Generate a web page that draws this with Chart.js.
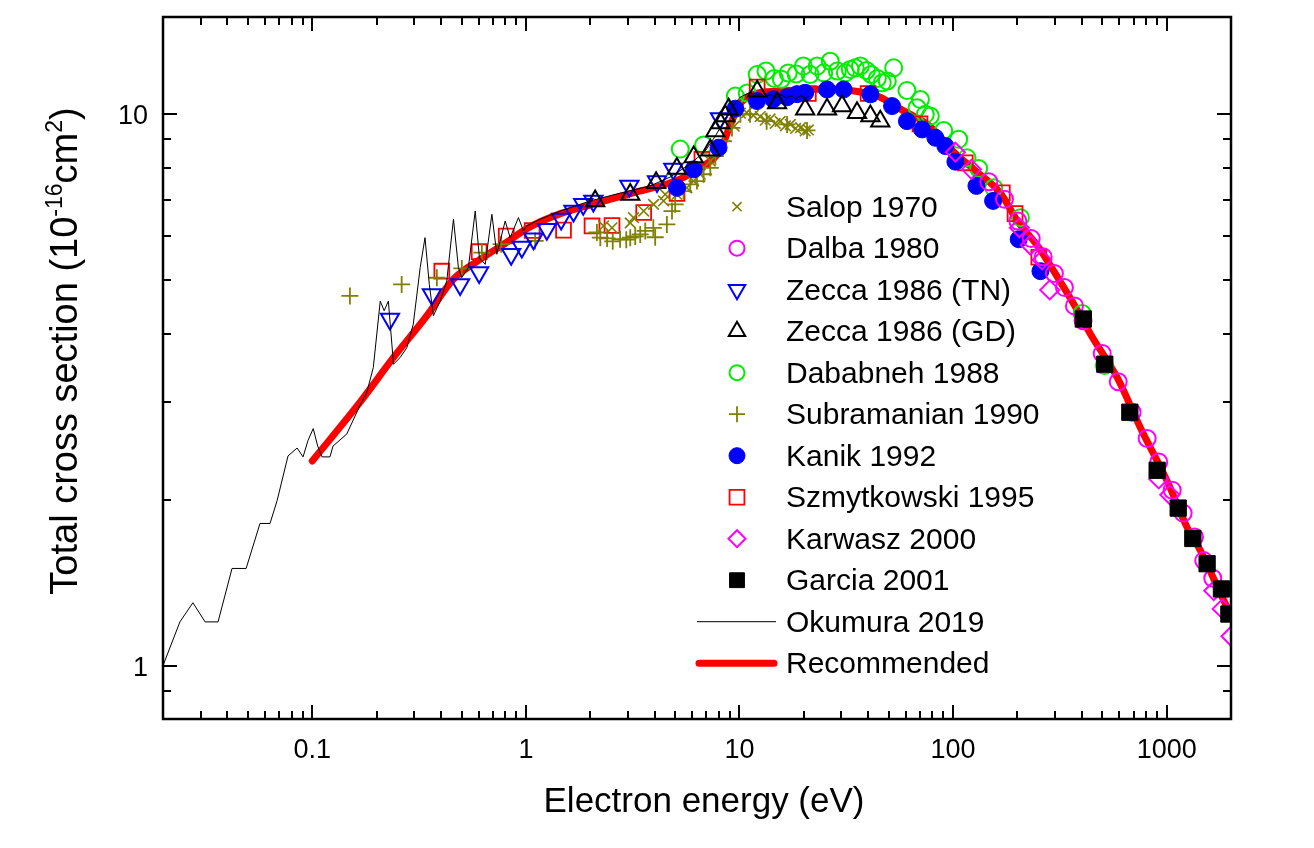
<!DOCTYPE html>
<html><head><meta charset="utf-8">
<script src="https://cdn.jsdelivr.net/npm/chart.js@4.4.1/dist/chart.umd.min.js"></script>
<style>html,body{margin:0;padding:0;background:#fff;}#wrap{width:1314px;height:848px;}</style>
</head><body><div id="wrap"><canvas id="c" width="1314" height="848"></canvas></div>
<script>
// ---------- DATA ----------
const xTickLabels = ['0.1', '1', '10', '100', '1000'];
const yTickLabels = ['1', '10'];
const xTitle = 'Electron energy (eV)';
const yTitleParts = ['Total cross section (10', '-16', 'cm', '2', ')'];
const seriesNames = ['Salop 1970', 'Dalba 1980', 'Zecca 1986 (TN)', 'Zecca 1986 (GD)', 'Dababneh 1988',
  'Subramanian 1990', 'Kanik 1992', 'Szmytkowski 1995', 'Karwasz 2000', 'Garcia 2001', 'Okumura 2019', 'Recommended'];

const salopE = [2.31, 2.53, 3.08, 3.19, 3.56, 3.96, 4.41, 4.49, 5.09, 5.67, 6.1, 6.55, 7.3, 8.13, 9.45, 10.1, 10.8, 11.6, 12.5, 13.2, 13.9, 14.7, 15.5, 16.4, 17.3, 18.3, 19.3, 20.3, 21.0];
const salopQ = [6.27, 6.22, 6.35, 6.49, 6.67, 6.86, 6.96, 7.15, 7.15, 7.35, 7.56, 7.78, 8.22, 8.75, 9.51, 10.04, 10.06, 9.95, 9.9, 9.75, 9.8, 9.62, 9.7, 9.52, 9.58, 9.42, 9.45, 9.32, 9.36];

const dalbaE = [147, 174, 201, 232, 264, 298, 332, 370, 406, 499, 593, 689, 810, 918, 1061, 1194, 1349, 1491, 1643];
const dalbaQ = [7.54, 7.01, 6.40, 5.95, 5.51, 5.14, 4.85, 4.49, 4.22, 3.68, 3.27, 2.88, 2.58, 2.34, 2.08, 1.89, 1.71, 1.55, 1.44];

const zeccaTNE = [0.231, 0.363, 0.492, 0.604, 0.853, 0.957, 1.085, 1.253, 1.462, 1.67, 1.855, 2.07, 3.05, 4.11, 4.9, 8.1];
const zeccaTNQ = [4.25, 4.71, 4.91, 5.16, 5.57, 5.74, 5.94, 6.18, 6.45, 6.67, 6.86, 6.96, 7.41, 7.55, 7.95, 9.82];

const zeccaGDE = [2.11, 3.08, 4.07, 5.09, 6.10, 7.3, 7.71, 8.13, 8.58, 8.9, 12.1, 15.0, 20.3, 25.7, 30.2, 35.5, 41.0, 45.6];
const zeccaGDQ = [6.96, 7.15, 7.51, 7.97, 8.36, 8.6, 9.32, 9.64, 9.92, 10.2, 11.0, 10.48, 10.2, 10.2, 10.34, 10.06, 9.92, 9.71];

const dababnehE = [5.28, 6.79, 9.56, 10.87, 12.1, 13.3, 14.55, 15.7, 16.9, 18.4, 19.9, 21.4, 23.1, 24.8, 26.6, 28.7, 31.3, 33.0, 34.8, 36.8, 39.3, 41.4, 44.2, 46.6, 49.2, 52.7, 60.8, 67.8, 70.3, 74.1, 78.2, 90.3, 106.2, 116.2, 131.7, 155, 206.5, 402, 511];
const dababnehQ = [8.64, 8.79, 10.78, 10.92, 11.8, 11.97, 11.6, 11.57, 11.87, 11.82, 12.22, 11.8, 12.22, 11.88, 12.47, 11.97, 11.88, 12.05, 12.13, 12.22, 12.0, 11.8, 11.6, 11.4, 11.48, 12.13, 11.04, 10.27, 10.63, 9.99, 9.92, 9.34, 9.0, 8.33, 7.97, 7.35, 6.49, 4.35, 3.50];

const subraE = [0.15, 0.262, 0.383, 0.501, 0.622, 0.766, 1.105, 2.15, 2.23, 2.4, 2.55, 2.76, 2.95, 3.08, 3.25, 3.43, 3.62, 3.95, 4.03, 4.57, 4.83, 5.0, 5.47, 5.88, 6.32, 6.79, 7.3, 7.71, 8.42, 9.22, 10.1, 11.2, 13.4, 16.7, 20.7];
const subraQ = [4.68, 4.91, 5.05, 5.25, 5.61, 5.81, 5.89, 6.10, 5.97, 5.95, 5.88, 5.93, 5.92, 5.97, 6.0, 6.05, 6.14, 6.22, 5.98, 6.31, 6.67, 6.86, 7.25, 7.46, 7.56, 7.78, 7.99, 8.39, 8.93, 9.44, 9.99, 9.99, 9.71, 9.58, 9.34];

const kanikE = [5.10, 6.10, 7.98, 9.56, 12.08, 14.4, 16.7, 18.6, 20.3, 25.7, 30.7, 41.0, 51.8, 60.8, 71.6, 82.6, 92.0, 102.5, 128.6, 153.9, 202.8, 256.4];
const kanikQ = [7.35, 7.94, 8.69, 10.23, 10.56, 10.64, 10.73, 10.87, 10.93, 11.08, 11.08, 10.86, 10.34, 9.71, 9.38, 9.06, 8.75, 8.20, 7.41, 6.96, 5.93, 5.19];

const szmytE = [0.404, 0.604, 0.809, 1.07, 1.50, 2.04, 2.53, 3.56, 5.1, 6.67, 12.1, 21.0, 40.0, 70.0, 114, 170, 195, 252];
const szmytQ = [5.19, 5.63, 6.01, 6.15, 6.16, 6.27, 6.28, 6.63, 7.18, 8.28, 11.2, 10.9, 10.9, 9.6, 8.16, 7.2, 6.6, 5.5];

const karwaszE = [102.5, 121.8, 204.4, 230, 261, 283.4, 918, 1034, 1661, 1819, 2000];
const karwaszQ = [8.53, 7.94, 6.22, 5.79, 5.44, 4.80, 2.18, 2.04, 1.367, 1.267, 1.13];

const garciaE = [407, 513, 672, 902, 1132, 1325, 1546, 1804, 1955];
const garciaQ = [4.25, 3.52, 2.88, 2.26, 1.93, 1.70, 1.53, 1.377, 1.24];

const okumuraE = [0.02, 0.024, 0.0276, 0.0315, 0.0362, 0.0421, 0.049, 0.0569, 0.0634, 0.0684, 0.077, 0.0849, 0.0905, 0.0955, 0.101, 0.106, 0.111, 0.121, 0.125, 0.145, 0.167, 0.180, 0.193, 0.208, 0.217, 0.227, 0.240, 0.258, 0.277, 0.297, 0.320, 0.337, 0.353, 0.369, 0.397, 0.426, 0.458, 0.483, 0.501, 0.538, 0.579, 0.606, 0.645, 0.693, 0.731, 0.800, 0.844, 0.923, 0.974, 1.01, 1.17, 1.45, 1.70, 2.0, 2.76, 3.82, 4.74, 5.88, 6.91, 7.70, 8.57, 9.25, 10.1, 11.2, 11.8, 12.5, 13.2, 14.0, 14.8, 15.6, 16.5, 17.4, 18.3, 19.3, 20.3, 21.0];
const okumuraQ = [1.0, 1.20, 1.30, 1.20, 1.20, 1.50, 1.50, 1.81, 1.81, 1.99, 2.40, 2.48, 2.39, 2.56, 2.69, 2.50, 2.39, 2.39, 2.50, 2.63, 2.96, 3.13, 3.47, 4.58, 4.40, 4.58, 3.52, 3.62, 3.77, 4.16, 5.27, 5.97, 4.91, 4.31, 4.58, 4.98, 6.45, 5.27, 5.05, 5.27, 6.67, 5.49, 5.34, 6.58, 5.57, 6.40, 5.97, 6.49, 6.14, 6.27, 6.45, 6.67, 6.81, 6.96, 7.19, 7.41, 7.69, 8.12, 8.57, 9.12, 9.80, 10.34, 10.74, 10.95, 10.8, 10.9, 10.75, 10.85, 10.7, 10.85, 10.7, 10.8, 10.65, 10.8, 10.7, 10.75];

const recE = [0.1, 0.167, 0.24, 0.344, 0.458, 0.61, 0.81, 1.01, 1.45, 2.07, 3.18, 4.57, 5.45, 6.55, 8.13, 9.0, 10.0, 12.0, 15.0, 25.0, 35.0, 45.0, 57.0, 78.0, 102, 127, 166, 200, 250, 300, 370, 440, 586, 753, 1005, 1247, 1439, 1920, 2000];
const recQ = [2.35, 3.0, 3.62, 4.31, 5.02, 5.45, 5.85, 6.2, 6.6, 6.87, 7.2, 7.47, 7.67, 8.0, 8.6, 9.5, 10.4, 10.9, 11.0, 11.1, 11.0, 10.75, 10.2, 9.5, 8.5, 7.9, 7.2, 6.4, 5.75, 5.15, 4.5, 3.99, 3.33, 2.70, 2.16, 1.78, 1.616, 1.275, 1.24];

// ---------- STYLE ----------
const FONT = '"Liberation Sans", Arial, Helvetica, sans-serif';
const pts = (E, Q) => E.map((e, i) => ({x: e, y: Q[i]}));
const seriesData = [
  pts(salopE, salopQ), pts(dalbaE, dalbaQ), pts(zeccaTNE, zeccaTNQ), pts(zeccaGDE, zeccaGDQ),
  pts(dababnehE, dababnehQ), pts(subraE, subraQ), pts(kanikE, kanikQ), pts(szmytE, szmytQ),
  pts(karwaszE, karwaszQ), pts(garciaE, garciaQ), pts(okumuraE, okumuraQ), pts(recE, recQ)
];
const styles = [
  {ps: 'crossRot', r: 7.5, c: '#808000', fill: false, bw: 1.6, lr: 6.5, ord: 8},
  {ps: 'circle', r: 8.5, c: '#ff00ff', fill: false, bw: 2, lr: 7.5, ord: 4},
  {ps: 'triangle', rot: 180, r: 10.5, c: '#0000ff', fill: false, bw: 2, lr: 9.5, ord: 6},
  {ps: 'triangle', r: 10.5, c: '#000000', fill: false, bw: 2, lr: 9.5, ord: 5},
  {ps: 'circle', r: 8.5, c: '#00ee00', fill: false, bw: 2, lr: 7.5, ord: 11},
  {ps: 'cross', r: 8.5, c: '#808000', fill: false, bw: 1.8, lr: 8, ord: 9},
  {ps: 'circle', r: 8.5, c: '#0000ff', fill: true, bw: 1, lr: 8, ord: 7},
  {ps: 'rect', r: 10.5, c: '#ff0000', fill: false, bw: 1.8, lr: 10.5, ord: 10},
  {ps: 'rectRot', r: 9.5, c: '#ff00ff', fill: false, bw: 2, lr: 8.5, ord: 3},
  {ps: 'rect', r: 11.5, c: '#000000', fill: true, bw: 1, lr: 10.5, ord: 2},
  {line: true, c: '#000000', w: 1, ord: 1},
  {line: true, c: '#ff0000', w: 7, ord: 12}
];

const datasets = seriesData.map((d, i) => {
  const s = styles[i];
  if (s.line) {
    return {label: seriesNames[i], data: d, showLine: true, borderColor: s.c, borderWidth: s.w,
      pointRadius: 0, order: s.ord, clip: 0, borderCapStyle: 'round', borderJoinStyle: 'round',
      cubicInterpolationMode: s.w > 2 ? 'monotone' : 'default', tension: s.w > 2 ? 0.4 : 0};
  }
  return {label: seriesNames[i], data: d, showLine: false, pointStyle: s.ps, pointRotation: s.rot || 0,
    pointRadius: s.r, pointBorderColor: s.c, pointBackgroundColor: s.fill ? s.c : 'rgba(0,0,0,0)',
    pointBorderWidth: s.bw, order: s.ord, clip: 0};
});

// ---------- PLUGIN: frame, ticks, labels, titles, legend ----------
const decor = {
  id: 'decor',
  afterDraw(chart) {
    const {ctx, chartArea: a, scales: {x, y}} = chart;
    ctx.save();
    ctx.strokeStyle = '#000'; ctx.lineWidth = 2;
    const seg = (x1, y1, x2, y2) => { ctx.beginPath(); ctx.moveTo(x1, y1); ctx.lineTo(x2, y2); ctx.stroke(); };
    for (let d = 0.01; d <= 1000.5; d *= 10) {
      for (let m = 1; m <= 9; m++) {
        const v = +(m * d).toPrecision(6);
        if (v < x.min * 0.999 || v > x.max * 1.001) continue;
        const px = Math.round(x.getPixelForValue(v));
        const len = m === 1 ? 14 : 8;
        seg(px, a.bottom, px, a.bottom - len);
        seg(px, a.top, px, a.top + len);
      }
    }
    for (let d = 0.1; d <= 10.5; d *= 10) {
      for (let m = 1; m <= 9; m++) {
        const v = +(m * d).toPrecision(6);
        if (v < y.min * 0.999 || v > y.max * 1.001) continue;
        const py = Math.round(y.getPixelForValue(v));
        const len = m === 1 ? 14 : 8;
        seg(a.left, py, a.left + len, py);
        seg(a.right, py, a.right - len, py);
      }
    }
    ctx.lineWidth = 2.5;
    ctx.strokeRect(a.left, a.top, a.right - a.left, a.bottom - a.top);

    // tick labels
    ctx.fillStyle = '#000';
    ctx.font = '27px ' + FONT;
    ctx.textAlign = 'center'; ctx.textBaseline = 'alphabetic';
    xTickLabels.forEach(t => ctx.fillText(t, x.getPixelForValue(parseFloat(t)), a.bottom + 39));
    ctx.textAlign = 'right';
    yTickLabels.forEach(t => ctx.fillText(t, a.left - 15, y.getPixelForValue(parseFloat(t)) + 10));

    // x title
    ctx.font = '35px ' + FONT;
    ctx.textAlign = 'center';
    ctx.fillText(xTitle, 704, 812);

    // y title (rotated, with superscripts)
    ctx.save();
    ctx.translate(77, 351);
    ctx.rotate(-Math.PI / 2);
    ctx.textAlign = 'left';
    const big = '38px ' + FONT, small = '23px ' + FONT;
    const fonts = [big, small, big, small, big];
    const dys = [0, -15, 0, -15, 0];
    let total = 0;
    const widths = yTitleParts.map((t, i) => { ctx.font = fonts[i]; const w = ctx.measureText(t).width; total += w; return w; });
    let cx = -total / 2;
    yTitleParts.forEach((t, i) => { ctx.font = fonts[i]; ctx.fillText(t, cx, dys[i]); cx += widths[i]; });
    ctx.restore();

    // legend
    const mx = 737, tx = 786, base0 = 216.7, step = 41.5;
    ctx.font = '30px ' + FONT;
    ctx.textAlign = 'left';
    seriesNames.forEach((name, i) => {
      const s = styles[i];
      const by = base0 + step * i;
      const my = by - 10;
      ctx.save();
      if (s.line) {
        ctx.strokeStyle = s.c; ctx.lineWidth = s.w; ctx.lineCap = s.w > 2 ? 'round' : 'butt';
        ctx.beginPath();
        if (s.w > 2) { ctx.moveTo(699, my); ctx.lineTo(774, my); }
        else { ctx.moveTo(697, my); ctx.lineTo(776, my); }
        ctx.stroke();
      } else {
        ctx.strokeStyle = s.c; ctx.fillStyle = s.fill ? s.c : 'rgba(0,0,0,0)';
        ctx.lineWidth = s.bw;
        Chart.helpers.drawPoint(ctx, {pointStyle: s.ps, radius: s.lr, rotation: s.rot || 0, borderWidth: s.bw}, mx, my);
      }
      ctx.restore();
      ctx.fillStyle = '#000';
      ctx.fillText(name, tx, by);
    });
    ctx.restore();
  }
};

new Chart(document.getElementById('c'), {
  type: 'scatter',
  data: {datasets},
  options: {
    responsive: false,
    animation: false,
    layout: {padding: {left: 163, right: 83, top: 17, bottom: 129}},
    plugins: {legend: {display: false}, tooltip: {enabled: false}},
    scales: {
      x: {type: 'logarithmic', min: 0.02, max: 2000, display: false},
      y: {type: 'logarithmic', min: 0.8, max: 15, display: false}
    }
  },
  plugins: [decor]
});
</script>
</body></html>
